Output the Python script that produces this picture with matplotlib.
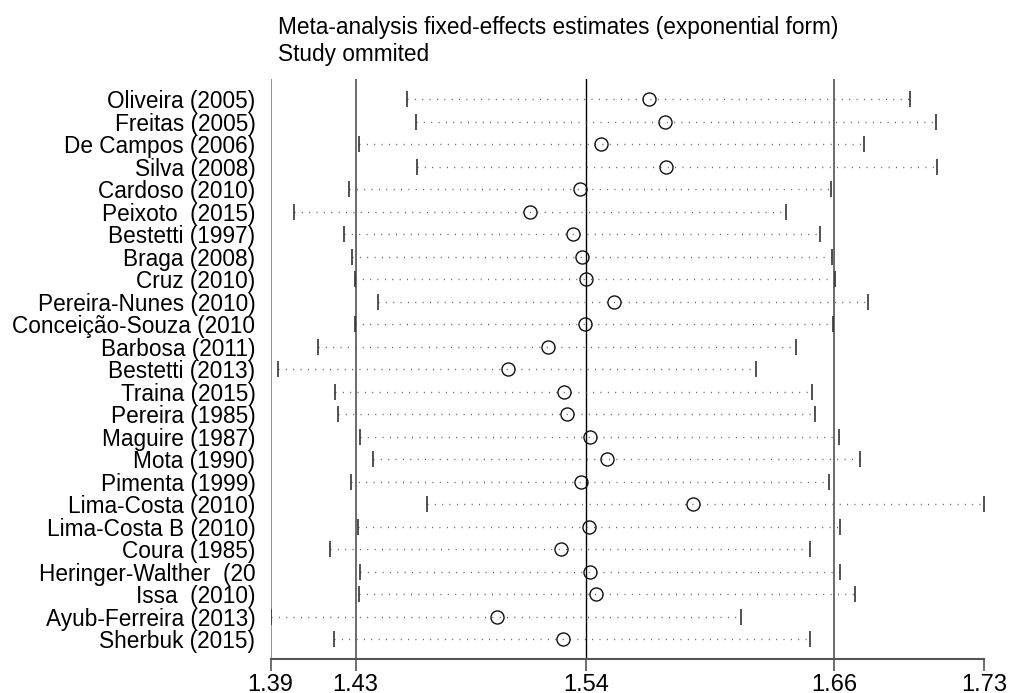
import matplotlib
matplotlib.use("Agg")
import matplotlib.pyplot as plt

plt.rcParams['font.family'] = ['Liberation Sans', 'DejaVu Sans']

## estudios (etiquetas como salen en el grafico original, algunas cortadas)
estudios = ["Oliveira (2005)", "Freitas (2005)", "De Campos (2006)", "Silva (2008)",
            "Cardoso (2010)", "Peixoto  (2015)", "Bestetti (1997)", "Braga (2008)",
            "Cruz (2010)", "Pereira-Nunes (2010)", "Conceição-Souza (2010",
            "Barbosa (2011)", "Bestetti (2013)", "Traina (2015)", "Pereira (1985)",
            "Maguire (1987)", "Mota (1990)", "Pimenta (1999)", "Lima-Costa (2010)",
            "Lima-Costa B (2010)", "Coura (1985)", "Heringer-Walther  (20",
            "Issa  (2010)", "Ayub-Ferreira (2013)", "Sherbuk (2015)"]

# estimado al omitir cada estudio y su intervalo de confianza
estimado = [1.5701, 1.5781, 1.5474, 1.5783, 1.5375, 1.5135, 1.5339, 1.5385,
            1.5402, 1.5534, 1.5398, 1.5220, 1.5032, 1.5297, 1.5313, 1.5423,
            1.5501, 1.5378, 1.5914, 1.5418, 1.5282, 1.5423, 1.5451, 1.4978, 1.5291]
inferior = [1.4549, 1.4592, 1.4321, 1.4598, 1.4272, 1.4012, 1.4248, 1.4287,
            1.4302, 1.4413, 1.4300, 1.4127, 1.3936, 1.4205, 1.4221, 1.4324,
            1.4387, 1.4284, 1.4643, 1.4315, 1.4181, 1.4324, 1.4321, 1.3900, 1.4202]
superior = [1.6946, 1.7068, 1.6725, 1.7075, 1.6570, 1.6355, 1.6517, 1.6573,
            1.6589, 1.6744, 1.6579, 1.6403, 1.6212, 1.6479, 1.6493, 1.6608,
            1.6706, 1.6559, 1.7300, 1.6611, 1.6468, 1.6611, 1.6684, 1.6141, 1.6468]

# efecto combinado (todos los estudios)
global_inf = 1.4305
global_est = 1.5403
global_sup = 1.6584

fig = plt.figure(figsize=(10.13, 6.93), dpi=100)
ax = fig.add_axes([0.2672, 0.0486, 0.7044, 0.8374])

x_min = min(inferior)
x_max = max(superior)

## lineas verticales de referencia
ax.axvline(x_min, color="#777777", lw=1.1, zorder=1)
ax.axvline(global_inf, color="#444444", lw=1.1, zorder=1)
ax.axvline(global_est, color="black", lw=1.0, zorder=1)
ax.axvline(global_sup, color="#444444", lw=1.1, zorder=1)

filas = list(range(1, len(estudios) + 1))
for i in range(len(estudios)):
    y = filas[i]
    ax.plot([inferior[i], superior[i]], [y, y], color="#555555", lw=1.0,
            dashes=(0.7, 4.6), zorder=2)
    ax.plot([inferior[i], superior[i]], [y, y], ls="none", marker="|",
            ms=11.5, mew=1.2, color="#333333", zorder=3)
ax.plot(estimado, filas, ls="none", marker="o", ms=9.4, mfc="none",
        mec="#111111", mew=1.0, zorder=4)

ax.set_xlim(x_min, x_max)
ax.set_ylim(25.9, 0.1)

ticks = [x_min, global_inf, global_est, global_sup, x_max]
ax.set_xticks(ticks)
ax.set_xticklabels(["%.2f" % t for t in ticks], fontsize=17)
ax.tick_params(axis="x", length=8.6, width=1.2, color="#555555", pad=2)

ax.set_yticks(filas)
ax.set_yticklabels(estudios, fontsize=16.3)
ax.tick_params(axis="y", length=0, pad=11)

for s in ["top", "right", "left"]:
    ax.spines[s].set_visible(False)
ax.spines["bottom"].set_color("#555555")
ax.spines["bottom"].set_linewidth(1.5)

fig.text(278 / 1013, 1 - 34 / 693, "Meta-analysis fixed-effects estimates (exponential form)",
         fontsize=16.3, ha="left", va="baseline")
fig.text(278 / 1013, 1 - 61 / 693, "Study ommited", fontsize=16.3, ha="left", va="baseline")

plt.savefig("out.png", dpi=100)
